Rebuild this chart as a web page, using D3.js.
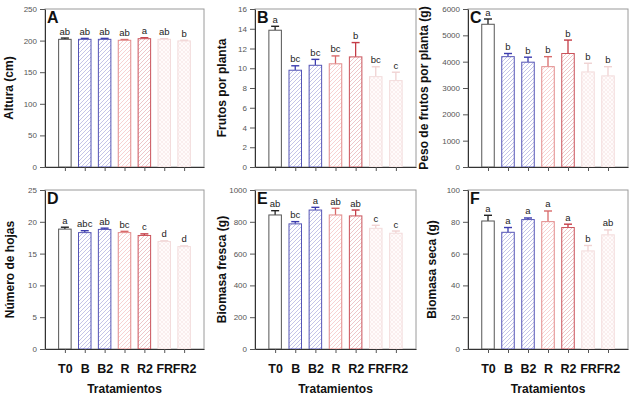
<!DOCTYPE html>
<html lang="es">
<head>
    <meta charset="UTF-8">
    <title>Tratamientos de luz</title>
    <script src="https://cdnjs.cloudflare.com/ajax/libs/d3/7.8.5/d3.min.js"></script>
    <style>
        body { margin: 0; background: #fff; }
        svg { display: block; font-family: Arial, 'Liberation Sans', sans-serif; }
    </style>
</head>
<body>
    <div id="wrapper"></div>
    <script>
        // 1. datos
        const treatments = ['T0', 'B', 'B2', 'R', 'R2', 'FR', 'FR2']

        const alturaMean = [202, 202, 202, 200.5, 203, 202, 199.5]
        const alturaErr = [2, 1.5, 1.5, 1.2, 1.5, 1, 1]
        const alturaSig = ['ab', 'ab', 'ab', 'ab', 'a', 'ab', 'b']

        const frutosMean = [13.85, 9.8, 10.3, 10.45, 11.15, 9.15, 8.75]
        const frutosErr = [0.4, 0.45, 0.6, 0.8, 1.45, 1.0, 0.85]
        const frutosSig = ['a', 'bc', 'bc', 'bc', 'b', 'bc', 'c']

        const pesoMean = [5420, 4190, 3980, 3810, 4310, 3610, 3460]
        const pesoErr = [200, 120, 190, 380, 510, 330, 350]
        const pesoSig = ['a', 'b', 'b', 'b', 'b', 'b', 'b']

        const hojasMean = [18.85, 18.3, 18.8, 18.3, 17.85, 16.9, 16.1]
        const hojasErr = [0.3, 0.3, 0.2, 0.2, 0.25, 0.1, 0.1]
        const hojasSig = ['a', 'abc', 'ab', 'bc', 'c', 'd', 'd']

        const frescaMean = [843, 787, 874, 843, 837, 759, 728]
        const frescaErr = [27, 14, 17, 42, 37, 19, 14]
        const frescaSig = ['ab', 'bc', 'a', 'ab', 'ab', 'c', 'c']

        const secaMean = [80.5, 73.4, 81.4, 80.1, 76.4, 61.7, 71.8]
        const secaErr = [3.6, 3.0, 1.0, 6.7, 2.1, 3.4, 3.1]
        const secaSig = ['a', 'a', 'a', 'a', 'a', 'b', 'ab']

        // estilo de cada tratamiento
        const styles = {
            T0:  { stroke: '#555',    hatch: null,      fill: '#fff', cross: false, err: '#222' },
            B:   { stroke: '#5555b6', hatch: '#9c9cd8', fill: '#fff', cross: false, err: '#3c3cae' },
            B2:  { stroke: '#5555b6', hatch: '#9c9cd8', fill: '#fff', cross: false, err: '#3c3cae' },
            R:   { stroke: '#e28a8a', hatch: '#f2b4b4', fill: '#fff', cross: false, err: '#d86a6a' },
            R2:  { stroke: '#ca525a', hatch: '#e0a0a5', fill: '#fff', cross: false, err: '#c43c46' },
            FR:  { stroke: '#f3dcdc', hatch: '#f7e5e5', fill: '#fffbfb', cross: true, err: '#f0d2d2' },
            FR2: { stroke: '#f3dcdc', hatch: '#f7e5e5', fill: '#fffbfb', cross: true, err: '#f0d2d2' },
        }

        const panels = [
            { letter: 'A', label: 'Altura (cm)', mean: alturaMean, err: alturaErr, sig: alturaSig,
              max: 250, step: 50, x0: 45, x1: 204, y0: 9, y1: 167, labelX: 13, bottom: false },
            { letter: 'B', label: 'Frutos por planta', mean: frutosMean, err: frutosErr, sig: frutosSig,
              max: 16, step: 2, x0: 255, x1: 416, y0: 9, y1: 167, labelX: 226, bottom: false },
            { letter: 'C', label: 'Peso de frutos por planta (g)', mean: pesoMean, err: pesoErr, sig: pesoSig,
              max: 6000, step: 1000, x0: 468, x1: 628, y0: 9, y1: 167, labelX: 428, bottom: false },
            { letter: 'D', label: 'Número de hojas', mean: hojasMean, err: hojasErr, sig: hojasSig,
              max: 25, step: 5, x0: 45, x1: 204, y0: 190, y1: 349, labelX: 14, bottom: true },
            { letter: 'E', label: 'Biomasa fresca (g)', mean: frescaMean, err: frescaErr, sig: frescaSig,
              max: 1000, step: 200, x0: 255, x1: 416, y0: 190, y1: 349, labelX: 226, bottom: true },
            { letter: 'F', label: 'Biomasa seca (g)', mean: secaMean, err: secaErr, sig: secaSig,
              max: 100, step: 20, x0: 468, x1: 628, y0: 190, y1: 349, labelX: 436, bottom: true },
        ]

        // 2. lienzo
        const svg = d3.select('#wrapper')
            .append('svg')
                .attr('width', 631)
                .attr('height', 398)

        // patrones de rayado
        const defs = svg.append('defs')
        treatments.forEach(t => {
            const s = styles[t]
            if (!s.hatch) return
            const pat = defs.append('pattern')
                .attr('id', `hatch-${t}`)
                .attr('patternUnits', 'userSpaceOnUse')
                .attr('width', 4)
                .attr('height', 4)
            pat.append('rect')
                .attr('width', 4)
                .attr('height', 4)
                .attr('fill', s.fill)
            let d = 'M-1,1 l2,-2 M0,4 l4,-4 M3,5 l2,-2'
            if (s.cross) d += ' M-1,3 l2,2 M0,0 l4,4 M3,-1 l2,2'
            pat.append('path')
                .attr('d', d)
                .attr('stroke', s.hatch)
                .attr('stroke-width', 0.6)
        })

        const barWidth = 12.5
        const capWidth = 8

        // 3. paneles
        panels.forEach(p => {
            const g = svg.append('g')

            const xScale = d3.scalePoint()
                .domain(treatments)
                .range([p.x0, p.x1])
                .padding(1)

            const yScale = d3.scaleLinear()
                .domain([0, p.max])
                .range([p.y1, p.y0])

            const rows = treatments.map((t, i) => ({ t, mean: p.mean[i], err: p.err[i], sig: p.sig[i] }))

            // marco
            g.append('rect')
                .attr('x', p.x0)
                .attr('y', p.y0)
                .attr('width', p.x1 - p.x0)
                .attr('height', p.y1 - p.y0)
                .attr('fill', 'none')
                .attr('stroke', '#9a9a9a')
                .attr('stroke-width', 1)

            // barras de error (solo hacia arriba)
            const errG = g.append('g')
            errG.selectAll('line.v')
                .data(rows)
                .join('line')
                    .attr('class', 'v')
                    .attr('x1', d => xScale(d.t))
                    .attr('x2', d => xScale(d.t))
                    .attr('y1', d => yScale(d.mean))
                    .attr('y2', d => yScale(d.mean + d.err))
                    .attr('stroke', d => styles[d.t].err)
                    .attr('stroke-width', 1.3)
            errG.selectAll('line.cap')
                .data(rows)
                .join('line')
                    .attr('class', 'cap')
                    .attr('x1', d => xScale(d.t) - capWidth / 2)
                    .attr('x2', d => xScale(d.t) + capWidth / 2)
                    .attr('y1', d => yScale(d.mean + d.err))
                    .attr('y2', d => yScale(d.mean + d.err))
                    .attr('stroke', d => styles[d.t].err)
                    .attr('stroke-width', 1.4)

            // barras
            g.append('g').selectAll('rect')
                .data(rows)
                .join('rect')
                    .attr('x', d => xScale(d.t) - barWidth / 2)
                    .attr('y', d => yScale(d.mean))
                    .attr('width', barWidth)
                    .attr('height', d => yScale(0) - yScale(d.mean))
                    .attr('fill', d => styles[d.t].hatch ? `url(#hatch-${d.t})` : styles[d.t].fill)
                    .attr('stroke', d => styles[d.t].stroke)
                    .attr('stroke-width', 1)

            // letras de significancia
            g.append('g').selectAll('text')
                .data(rows)
                .join('text')
                    .attr('x', d => xScale(d.t))
                    .attr('y', d => yScale(d.mean + d.err) - 3.5)
                    .attr('text-anchor', 'middle')
                    .style('font-size', '9.5px')
                    .attr('fill', '#222')
                    .text(d => d.sig)

            // eje y
            const yAxisGenerator = d3.axisLeft(yScale)
                .tickValues(d3.range(0, p.max + p.step / 2, p.step))
                .tickFormat(d3.format('d'))
                .tickSize(5)
                .tickSizeOuter(0)
                .tickPadding(3)
            const yAxis = g.append('g')
                .attr('transform', `translate(${p.x0},0)`)
                .call(yAxisGenerator)
            yAxis.select('.domain').attr('stroke', '#333')
            yAxis.selectAll('.tick line').attr('stroke', '#555')
            yAxis.selectAll('.tick text')
                .attr('fill', '#555')
                .style('font-size', '8px')
                .style('font-family', 'Arial, Liberation Sans, sans-serif')

            // eje x
            const xAxisGenerator = d3.axisBottom(xScale)
                .tickSize(4)
                .tickSizeOuter(0)
                .tickPadding(11)
                .tickFormat(d => p.bottom ? d : '')
            const xAxis = g.append('g')
                .attr('transform', `translate(0,${p.y1})`)
                .call(xAxisGenerator)
            xAxis.select('.domain').attr('stroke', '#333')
            xAxis.selectAll('.tick line').attr('stroke', '#555')
            xAxis.selectAll('.tick text')
                .attr('fill', '#111')
                .style('font-size', '12.5px')
                .style('font-weight', 'bold')
                .style('font-family', 'Arial, Liberation Sans, sans-serif')

            // letra del panel
            g.append('text')
                .attr('x', p.x0 + 2)
                .attr('y', p.y0 + 14)
                .style('font-size', '16px')
                .style('font-weight', 'bold')
                .attr('fill', '#111')
                .text(p.letter)

            // titulo del eje y
            g.append('text')
                .attr('transform', `translate(${p.labelX},${(p.y0 + p.y1) / 2}) rotate(-90)`)
                .attr('text-anchor', 'middle')
                .style('font-size', '12px')
                .style('font-weight', 'bold')
                .attr('fill', '#111')
                .text(p.label)

            // titulo del eje x
            if (p.bottom) {
                g.append('text')
                    .attr('x', (p.x0 + p.x1) / 2)
                    .attr('y', 393)
                    .attr('text-anchor', 'middle')
                    .style('font-size', '12px')
                    .style('font-weight', 'bold')
                    .attr('fill', '#111')
                    .text('Tratamientos')
            }
        })
    </script>
</body>
</html>
